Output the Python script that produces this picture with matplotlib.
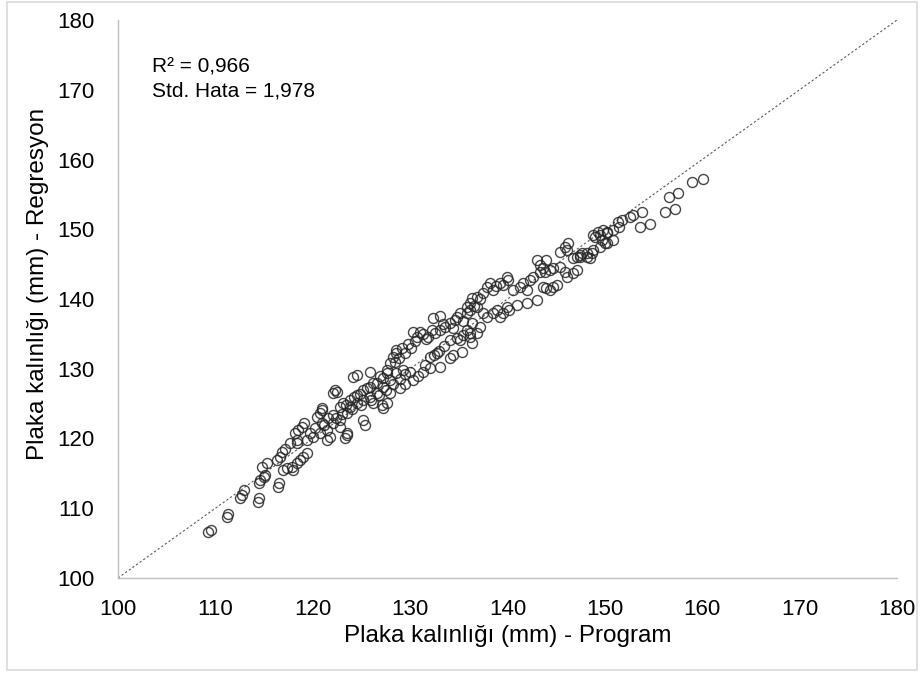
import matplotlib
matplotlib.use('Agg')
import matplotlib.pyplot as plt
from matplotlib.patches import Rectangle

plt.rcParams['font.family'] = ['Liberation Sans', 'DejaVu Sans']

# Plate thickness (mm): program output vs. regression estimate
# low end
prog_low = [109.2, 109.5, 111.2, 111.3, 112.5, 112.7, 112.9, 114.4, 114.5, 114.5,
            114.6, 115.0, 115.1, 114.8, 115.3, 116.4, 116.5, 116.3, 116.6, 116.8,
            117.2, 116.9, 117.4, 117.9, 118.0, 118.4, 118.7, 119.0, 119.4, 118.2,
            118.5, 118.9, 119.1, 118.4, 117.7, 118.4, 119.7, 119.4]
regr_low = [106.6, 106.9, 108.8, 109.2, 111.5, 111.9, 112.6, 110.9, 111.5, 113.6,
            114.1, 114.5, 114.8, 115.9, 116.5, 113.0, 113.6, 116.9, 117.3, 118.1,
            118.5, 115.5, 115.8, 115.9, 115.5, 116.5, 116.9, 117.3, 117.9, 120.8,
            121.2, 121.6, 122.2, 119.4, 119.4, 119.8, 120.8, 119.8]

# upper band, 120-138 mm
prog_upper = [120.4, 120.7, 120.9, 121.0, 121.0, 121.6, 122.1, 122.1, 122.3, 122.5,
              122.8, 123.1, 123.4, 123.8, 124.1, 124.5, 124.2, 124.5, 124.9, 125.2,
              125.6, 125.9, 125.9, 126.2, 126.6, 126.9, 127.2, 127.6, 127.6, 127.9,
              128.2, 128.4, 128.6, 128.6, 128.9, 129.2, 129.5, 129.8, 130.1, 130.3,
              130.5, 130.7, 131.0, 131.3, 131.6, 131.8, 132.2, 132.3, 133.1, 132.6,
              133.1, 133.4, 133.6, 134.1, 134.4, 134.6, 134.8, 135.1, 135.4, 135.8,
              135.8, 136.1, 136.1, 136.4, 136.6, 136.9, 136.9, 137.2, 137.5]
regr_upper = [123.1, 123.7, 124.1, 124.4, 122.2, 122.9, 123.4, 126.5, 127.0, 126.7,
              124.5, 125.1, 124.8, 125.5, 128.8, 129.1, 125.9, 126.2, 126.4, 127.0,
              127.3, 127.4, 129.5, 128.0, 128.0, 128.9, 128.7, 129.4, 129.8, 130.8,
              131.7, 130.9, 132.3, 132.7, 131.6, 133.0, 132.3, 133.6, 133.0, 135.3,
              134.0, 134.6, 135.2, 135.0, 134.2, 134.5, 135.5, 137.3, 137.6, 135.1,
              135.6, 136.4, 136.0, 136.6, 135.8, 137.0, 137.4, 138.0, 136.9, 138.0,
              138.9, 138.4, 139.4, 140.1, 139.0, 138.9, 140.3, 140.0, 140.9]

# lower band, 120-138 mm
prog_lower = [120.0, 120.2, 120.7, 121.2, 121.5, 122.1, 122.4, 122.8, 122.8, 123.0,
              123.5, 123.8, 124.0, 124.5, 125.0, 125.2, 125.9, 126.0, 126.2, 126.6,
              126.8, 127.2, 127.5, 127.9, 127.9, 128.2, 128.6, 129.0, 129.0, 129.3,
              129.5, 129.5, 130.0, 130.3, 130.8, 131.3, 131.5, 132.0, 132.5, 132.8,
              133.0, 133.5, 134.1, 134.8, 135.1, 135.4, 135.8, 136.1, 136.4, 136.9,
              137.2]
regr_lower = [120.2, 121.5, 120.8, 122.0, 121.2, 122.2, 123.0, 121.6, 122.7, 123.5,
              123.7, 124.5, 124.2, 125.1, 124.8, 125.5, 126.0, 125.5, 125.1, 126.5,
              126.2, 127.4, 127.0, 126.5, 128.4, 127.8, 129.4, 127.3, 128.5, 129.8,
              127.8, 129.2, 129.5, 128.4, 129.0, 129.6, 130.5, 131.7, 132.0, 132.3,
              132.6, 133.2, 134.1, 134.4, 134.1, 134.8, 135.6, 135.1, 136.6, 135.1,
              136.0]

# points lying clearly under the lower band
prog_out = [121.5, 121.8, 123.3, 123.5, 123.5, 125.2, 125.4, 127.1, 127.2, 127.6,
            132.0, 133.1, 134.1, 134.4, 135.3, 136.1, 136.4]
regr_out = [119.8, 120.2, 120.1, 120.5, 120.8, 122.7, 121.9, 124.8, 124.4, 125.1,
            130.1, 130.3, 131.5, 132.0, 132.4, 134.6, 133.7]

# 137-151 mm
prog_high = [137.9, 138.2, 138.5, 138.8, 139.2, 139.5, 139.9, 140.0, 140.6, 141.3,
             141.6, 142.0, 142.3, 142.6, 143.0, 143.3, 143.3, 143.6, 143.8, 144.0,
             144.4, 144.7, 145.4, 145.9, 146.1, 146.2, 148.8, 149.3, 149.8, 150.2,
             149.7, 150.0,
             137.5, 137.9, 138.5, 138.9, 139.2, 139.5, 139.9, 140.2, 141.0, 142.0,
             143.0, 143.6, 144.0, 144.4, 144.7, 145.1, 145.4, 145.9, 146.1, 146.7,
             147.1, 146.7, 147.1, 147.4, 147.7, 148.2, 148.5, 148.7, 147.4, 148.2,
             148.8, 149.5, 150.2, 150.8]
regr_high = [141.7, 142.3, 141.3, 141.8, 142.3, 142.0, 143.2, 142.7, 141.3, 141.7,
             142.3, 141.3, 142.7, 143.2, 145.6, 144.9, 143.9, 144.4, 143.9, 145.6,
             144.2, 144.4, 146.7, 147.5, 147.0, 148.0, 149.2, 149.6, 149.9, 149.5,
             148.5, 148.0,
             138.0, 137.4, 138.0, 138.4, 137.4, 138.0, 138.9, 138.4, 139.1, 139.4,
             139.9, 141.7, 141.6, 141.3, 141.7, 142.0, 144.6, 143.9, 143.2, 143.7,
             144.2, 145.9, 146.0, 146.3, 146.6, 146.0, 145.9, 146.6, 146.0, 146.6,
             147.0, 147.5, 148.0, 148.5]

# top end
prog_top = [149.0, 149.5, 150.2, 150.8, 151.5, 151.3, 151.8, 152.6, 152.9, 153.8,
            153.6, 154.6, 156.2, 157.2, 156.6, 157.5, 158.9, 160.1]
regr_top = [148.9, 149.2, 149.6, 149.9, 150.3, 151.0, 151.3, 151.8, 152.0, 152.5,
            150.3, 150.8, 152.5, 152.9, 154.6, 155.2, 156.8, 157.2]

program = prog_low + prog_upper + prog_lower + prog_out + prog_high + prog_top
regresyon = regr_low + regr_upper + regr_lower + regr_out + regr_high + regr_top

ticks = [100, 110, 120, 130, 140, 150, 160, 170, 180]
r2_text = 'R² = 0,966'
se_text = 'Std. Hata = 1,978'

fig = plt.figure(figsize=(9.21, 6.75), dpi=100)
ax = fig.add_axes([118/921, 1 - 578/675, 779/921, 558/675])

# light grey frame around the whole chart
fig.patches.append(Rectangle((7/921, 5/675), 910/921, 668/675,
                             transform=fig.transFigure, fill=False,
                             edgecolor='#d9d9d9', linewidth=1.2))

# 1:1 reference line
ax.plot([100, 180], [100, 180], linestyle=(0, (2, 2)), color='#595959',
        linewidth=0.8, zorder=1)

ax.plot(program, regresyon, linestyle='none', marker='o', markersize=7.2,
        markerfacecolor='none', markeredgecolor='#262626', markeredgewidth=1.0,
        alpha=0.85, zorder=2)

ax.set_xlim(100, 180)
ax.set_ylim(100, 180)
ax.set_xticks(ticks)
ax.set_yticks(ticks)

for side in ['top', 'right']:
    ax.spines[side].set_visible(False)
for side in ['left', 'bottom']:
    ax.spines[side].set_color('#bfbfbf')
    ax.spines[side].set_linewidth(1.0)

ax.tick_params(axis='both', length=0, labelsize=16, colors='black')
ax.tick_params(axis='y', pad=17)
ax.tick_params(axis='x', pad=15)

ax.set_xlabel('Plaka kalınlığı (mm) - Program', fontsize=17.5, va='center')
ax.set_ylabel('Plaka kalınlığı (mm) - Regresyon', fontsize=17.5, va='center')
ax.xaxis.set_label_coords(0.5, -(636 - 578) / 558)
ax.yaxis.set_label_coords(-(118 - 38) / 779, (578 - 284) / 558)

ax.text((152 - 118) / 779, (578 - 67) / 558, r2_text, transform=ax.transAxes,
        fontsize=15, va='center', ha='left')
ax.text((152 - 118) / 779, (578 - 91) / 558, se_text, transform=ax.transAxes,
        fontsize=15, va='center', ha='left')

plt.savefig('out.png', dpi=100)
